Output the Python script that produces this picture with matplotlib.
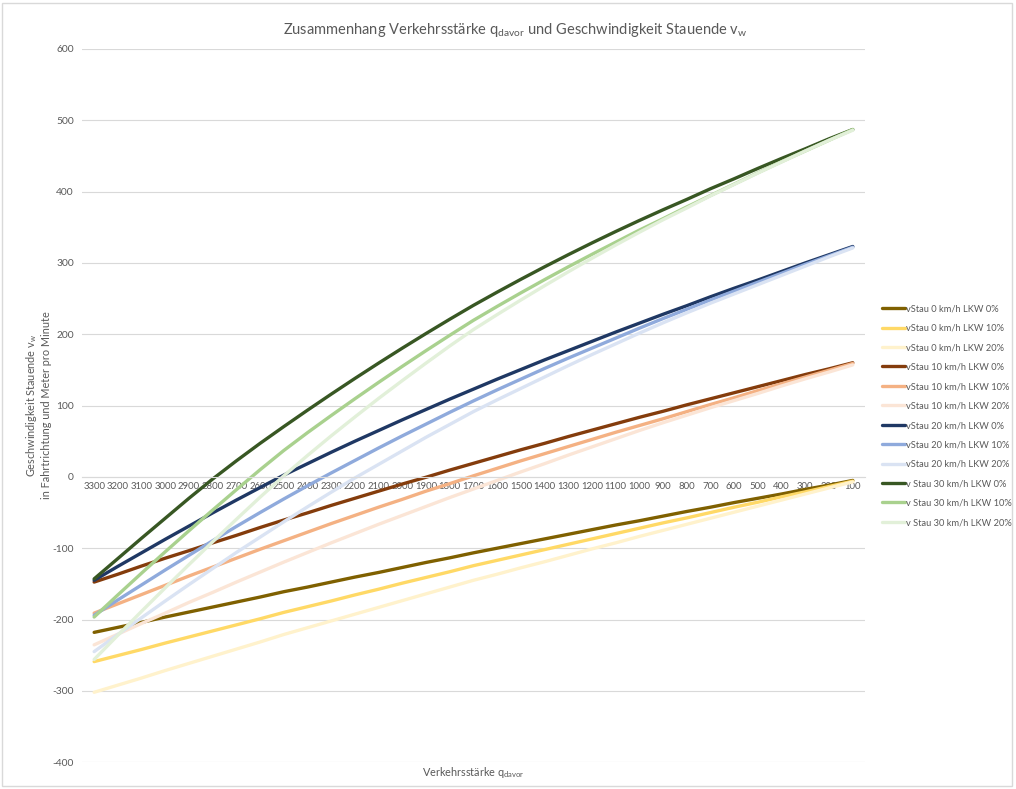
import matplotlib
matplotlib.use("Agg")
import matplotlib.pyplot as plt
from matplotlib.patches import Rectangle

plt.rcParams['font.family'] = ['Lato', 'DejaVu Sans']
plt.rcParams['mathtext.fontset'] = 'custom'
plt.rcParams['mathtext.rm'] = 'Lato'
plt.rcParams['mathtext.it'] = 'Lato'
plt.rcParams['axes.unicode_minus'] = False

# Verkehrsstaerke q_davor (Kategorien, absteigend)
q_davor = [str(q) for q in range(3300, 0, -100)]

# vStau 0 km/h
v0_lkw0 = [-218, -211, -204, -196.5, -189.5, -182.5, -175.5, -168.5, -161, -154.5, -147.5, -140.5, -134, -127,
           -120, -113.5, -106.5, -100, -93.5, -87, -80.5, -74, -67.5, -61.5, -55, -48.5, -42.5, -36, -30, -24,
           -17.5, -11.5, -5]
v0_lkw10 = [-259, -250.5, -242, -233, -224.5, -216, -207.5, -199, -190, -182, -174, -165.5, -157.5, -149, -141,
            -133, -124.5, -117, -109.5, -102, -94.5, -87, -79.5, -72, -64.5, -57.5, -50, -42.5, -35.5, -28, -21,
            -13.5, -6]
v0_lkw20 = [-302, -292, -282, -271.5, -261.5, -251.5, -241.5, -231.5, -221, -211.5, -202, -192.5, -183, -173.5,
            -164, -154.5, -145, -136.5, -127.5, -119, -110, -101, -92.5, -83.5, -75, -66.5, -58, -49.5, -41,
            -32.5, -24, -15.5, -7]

# vStau 10 km/h
v10_lkw0 = [-147.5, -136.5, -125, -114, -103.5, -92.5, -82, -71, -60.5, -50.5, -40, -30, -20, -10, -0.5, 9.5,
            19, 28.5, 38, 47, 56.5, 65.5, 74.5, 83.5, 92, 101, 109.5, 118, 126.5, 135, 143.5, 151.5, 160]
v10_lkw10 = [-191, -178, -165, -152, -139, -126.5, -114, -101.5, -89.5, -77.5, -65.5, -54, -42.5, -31.5, -20,
             -9.5, 1.5, 12, 22.5, 32.5, 42.5, 52.5, 62.5, 72, 81.5, 91.5, 101.5, 111, 121, 130.5, 140, 149.5, 159]
v10_lkw20 = [-235.5, -220.5, -205.5, -191, -176, -162, -147.5, -133.5, -119.5, -106, -92.5, -79.5, -66.5, -54,
             -41.5, -29, -17, -5, 7, 18.5, 30.5, 42, 53.5, 65, 76, 86.5, 97, 107, 117, 127.5, 137.5, 147, 157]

# vStau 20 km/h
v20_lkw0 = [-145, -125.5, -106.5, -87.5, -69, -50.5, -32.5, -15, 2.5, 18.5, 34.5, 50, 65, 80, 94.5, 109, 123,
            137, 150.5, 164, 177, 190, 203, 215.5, 228, 240, 252.5, 264.5, 276, 288, 300, 311.5, 323]
v20_lkw10 = [-194, -172.5, -151.5, -130.5, -110, -89.5, -69.5, -50, -31, -12.5, 5.5, 23, 40.5, 57.5, 74, 90.5,
             106.5, 122, 137, 152, 166.5, 180.5, 194.5, 208.5, 222, 235, 248, 260.5, 273, 285.5, 298, 310, 322]
v20_lkw20 = [-245, -221, -197.5, -174, -151, -128.5, -106, -84.5, -63, -42, -21.5, -1.5, 17.5, 36.5, 55.5, 73.5,
             91.5, 108, 124, 140, 156, 171.5, 186.5, 201.5, 216, 230, 243.5, 256.5, 269.5, 282.5, 295.5, 308.5, 321]

# vStau 30 km/h
v30_lkw0 = [-143, -114.5, -86, -58, -30, -3, 22.5, 47, 70.5, 93.5, 116, 138, 159.5, 180.5, 201, 221, 240.5, 259,
            277, 294.5, 311.5, 328, 344, 359.5, 374.5, 389, 404, 418, 432.5, 446.5, 460, 474, 487]
v30_lkw10 = [-196.5, -165.5, -135, -105, -75.5, -46.5, -18, 10, 37, 62, 86, 109.5, 132.5, 155, 177, 198.5,
             219.5, 239, 258, 276.5, 294.5, 312, 329, 346, 362, 378.5, 394.5, 410.5, 426.5, 442, 457, 472, 487]
v30_lkw20 = [-256, -222, -188.5, -155.5, -123, -91, -59.5, -28.5, 1.5, 30, 57.5, 84, 110, 135, 159.5, 183.5,
             206.5, 227.5, 248, 268, 287.5, 306.5, 325, 343, 360.5, 377, 394, 410, 426, 441.5, 457, 472, 486]

series = [
    ("vStau 0 km/h LKW 0%", v0_lkw0, "#7F6000"),
    ("vStau 0 km/h LKW 10%", v0_lkw10, "#FFD966"),
    ("vStau 0 km/h LKW 20%", v0_lkw20, "#FFF2CC"),
    ("vStau 10 km/h LKW 0%", v10_lkw0, "#843C0C"),
    ("vStau 10 km/h LKW 10%", v10_lkw10, "#F4B183"),
    ("vStau 10 km/h LKW 20%", v10_lkw20, "#FBE5D6"),
    ("vStau 20 km/h LKW 0%", v20_lkw0, "#1F3864"),
    ("vStau 20 km/h LKW 10%", v20_lkw10, "#8FAADC"),
    ("vStau 20 km/h LKW 20%", v20_lkw20, "#DAE3F3"),
    ("v Stau 30 km/h LKW 0%", v30_lkw0, "#385723"),
    ("v Stau 30 km/h LKW 10%", v30_lkw10, "#A9D18E"),
    ("v Stau 30 km/h LKW 20%", v30_lkw20, "#E2F0D9"),
]

text_col = "#595959"
grid_col = "#D9D9D9"

fig = plt.figure(figsize=(10.16, 7.89), dpi=100)
ax = fig.add_axes([0.081, 0.034, 0.77, 0.904])

x = list(range(len(q_davor)))
for label, vals, col in series:
    ax.plot(x, vals, color=col, lw=2.4, label=label, solid_capstyle='round')

ax.set_xlim(-0.5, len(q_davor) - 0.5)
ax.set_ylim(-400, 600)
ax.set_yticks(range(-400, 601, 100))
ax.set_xticks(x)
ax.set_xticklabels(q_davor)
ax.yaxis.grid(True, color=grid_col, lw=0.8)
ax.set_axisbelow(True)
for s in ['top', 'right', 'left']:
    ax.spines[s].set_visible(False)
ax.spines['bottom'].set_position(('data', 0))
ax.spines['bottom'].set_color(grid_col)
ax.spines['bottom'].set_linewidth(0.8)
ax.tick_params(axis='x', length=0, labelsize=6.9, labelcolor=text_col, pad=4)
ax.tick_params(axis='y', length=0, labelsize=7.4, labelcolor=text_col, pad=6)

ax.set_ylabel("Geschwindigkeit Stauende v$_{\\mathrm{w}}$\nin Fahrtrichtung und Meter pro Minute",
              fontsize=7.8, color=text_col, linespacing=1.25)
ax.yaxis.set_label_coords(-0.039, 0.5)
fig.text(0.466, 0.021, "Verkehrsstärke q$_{\\mathrm{davor}}$", fontsize=7.8, color=text_col,
         ha='center', va='center')
fig.text(0.507, 0.962, "Zusammenhang Verkehrsstärke q$_{\\mathrm{davor}}$ und Geschwindigkeit Stauende v$_{\\mathrm{w}}$",
         fontsize=10.5, color=text_col, ha='center', va='center')

leg = fig.legend(loc='center left', bbox_to_anchor=(0.868, 0.473), frameon=False, fontsize=6.7,
                 handlelength=2.5, handletextpad=0.1, labelspacing=1.12, labelcolor=text_col,
                 borderaxespad=0, borderpad=0)

fig.patches.append(Rectangle((0.002, 0.004), 0.994, 0.992, transform=fig.transFigure,
                             fill=False, edgecolor=grid_col, lw=1))

fig.savefig("out.png", dpi=100)
